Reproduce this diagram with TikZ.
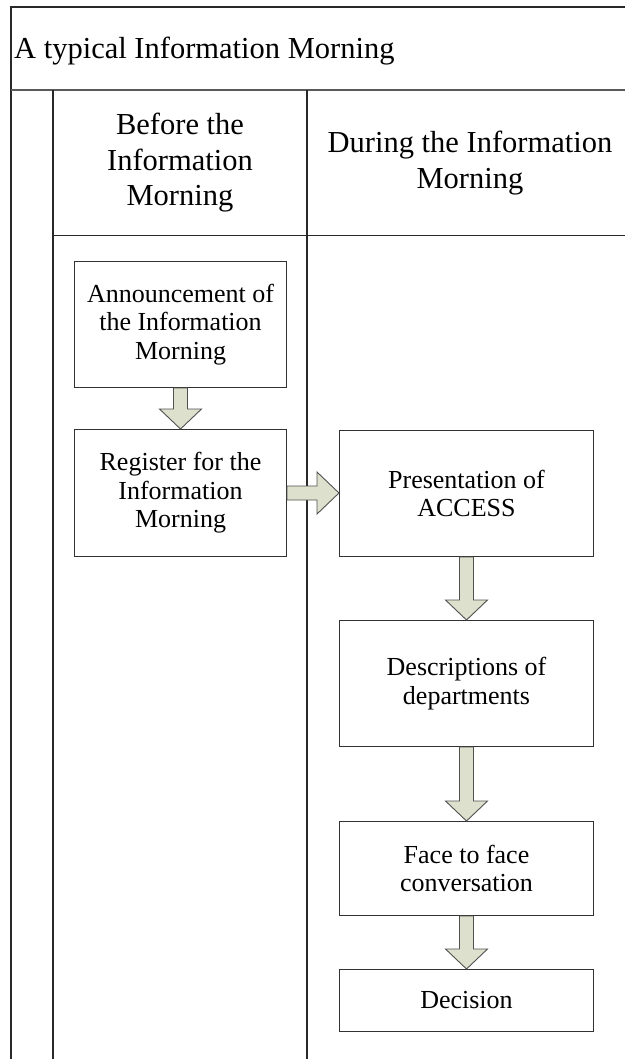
\documentclass[tikz,border=0pt]{standalone}
\usepackage{fontspec}
\setmainfont{Liberation Serif}
\usetikzlibrary{calc}
\definecolor{lanegray}{RGB}{40,40,40}
\definecolor{rulegray}{RGB}{90,90,90}
\definecolor{boxline}{RGB}{50,50,50}
\definecolor{arrowfill}{RGB}{221,224,204}
\definecolor{arrowline}{RGB}{80,80,80}
\tikzset{
  lane/.style={draw=lanegray, line width=1.2pt},
  stepbox/.style={draw=boxline, line width=1pt, fill=white, anchor=north west,
    align=center, inner sep=2pt, font=\fontsize{26}{28.5}\selectfont},
  headtext/.style={align=center, inner sep=0pt, font=\fontsize{30.5}{35.5}\selectfont},
  blockarrow/.style={draw=arrowline, fill=arrowfill, line width=0.9pt, line join=miter},
}
% vertical block arrow from the bottom of #1 to the top of #2
\newcommand\vblock[2]{%
  \draw[blockarrow] let \p1=(#1.south), \p2=(#2.north) in
    (\x1-7pt,\y1) -- (\x1+7pt,\y1) -- (\x1+7pt,\y2+20pt) -- (\x1+21pt,\y2+20pt)
    -- (\x1,\y2) -- (\x1-21pt,\y2+20pt) -- (\x1-7pt,\y2+20pt) -- cycle;}
% horizontal block arrow from the right of #1 to the left of #2
\newcommand\hblock[2]{%
  \draw[blockarrow] let \p1=(#1.east), \p2=(#2.west) in
    (\x1,\y1+7pt) -- (\x2-22pt,\y1+7pt) -- (\x2-22pt,\y1+21pt) -- (\x2,\y1)
    -- (\x2-22pt,\y1-21pt) -- (\x2-22pt,\y1-7pt) -- (\x1,\y1-7pt) -- cycle;}
\begin{document}
\begin{tikzpicture}[x=1pt,y=-1pt]
  \useasboundingbox (0,0) rectangle (625,1059);

  % pool frame and lanes
  \draw[lane] (625,7) -- (11,7) -- (11,1059);
  \draw[draw=rulegray, line width=2pt] (11,90) -- (625,90);
  \draw[lane] (53,90) -- (53,1059);
  \draw[lane] (307,90) -- (307,1059);
  \draw[lane, line width=1pt] (53,236) -- (625,236);

  % titles
  \node[anchor=base west, inner sep=0pt, font=\fontsize{30.5}{35.5}\selectfont]
    (title) at (14,59) {A typical Information Morning};
  \node[headtext] (hbefore) at (180,163) {Before the\\Information\\Morning};
  \node[headtext] (hduring) at (470,163) {During the Information\\Morning};

  % steps
  \node[stepbox, minimum width=212, minimum height=126] (announce) at (74,261)
    {Announcement of\\the Information\\Morning};
  \node[stepbox, minimum width=212, minimum height=127] (register) at (74,429)
    {Register for the\\Information\\Morning};
  \node[stepbox, minimum width=254, minimum height=126] (present) at (339,430)
    {Presentation of\\ACCESS};
  \node[stepbox, minimum width=254, minimum height=126] (describe) at (339,620)
    {Descriptions of\\departments};
  \node[stepbox, minimum width=254, minimum height=94] (talk) at (339,821)
    {Face to face\\conversation};
  \node[stepbox, minimum width=254, minimum height=62] (decide) at (339,969)
    {Decision};

  % flow
  \vblock{announce}{register}
  \hblock{register}{present}
  \vblock{present}{describe}
  \vblock{describe}{talk}
  \vblock{talk}{decide}
\end{tikzpicture}
\end{document}
